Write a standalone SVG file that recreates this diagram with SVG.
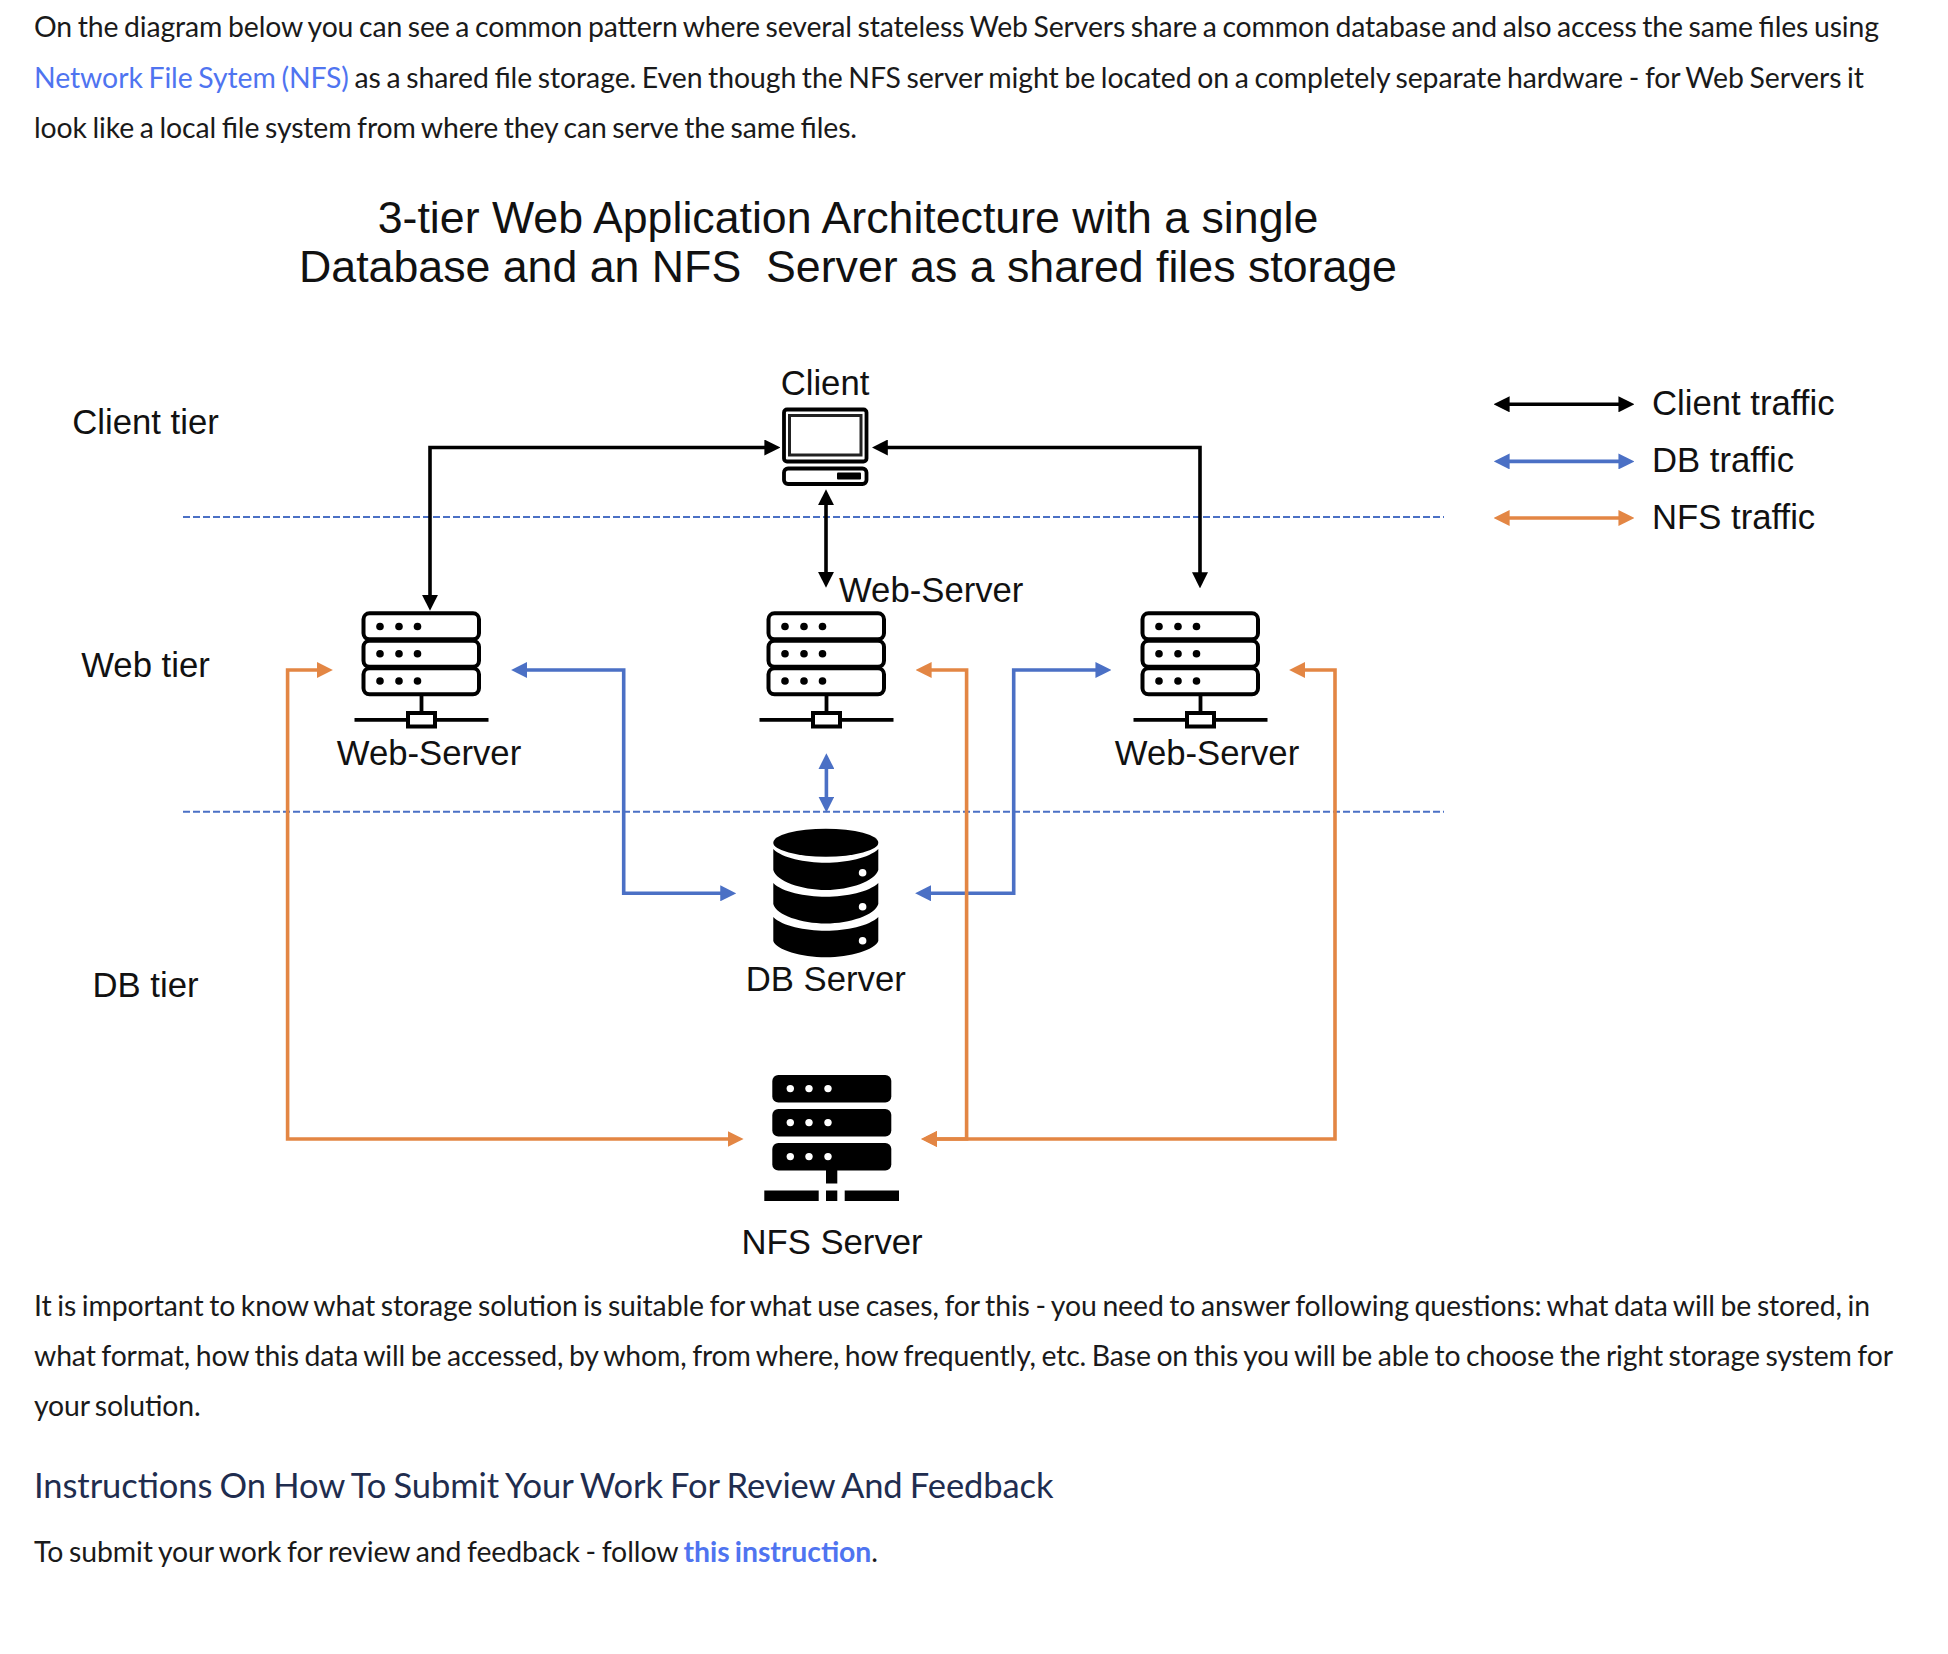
<svg xmlns="http://www.w3.org/2000/svg" width="1948" height="1654" viewBox="0 0 1948 1654">
<style>
.b{font-family:Lato,"Noto Sans",sans-serif;font-size:28.400px;word-spacing:-1.500px;fill:#1a1a1a}
.d{font-family:"Liberation Sans",Arial,sans-serif;font-size:34.700px;fill:#111}
.t{font-family:"Liberation Sans",Arial,sans-serif;font-size:44.700px;fill:#111;text-anchor:middle;white-space:pre}
.m{text-anchor:middle}
.l{fill:#4f74f0}
.c{fill:none;stroke-width:3.600;stroke-linejoin:miter}
.k{stroke:#000;marker-start:url(#ak);marker-end:url(#ak)}
.uu{stroke:#4b70c5;marker-start:url(#au);marker-end:url(#au)}
.oo{stroke:#e38644;marker-start:url(#ao);marker-end:url(#ao)}
.dash{stroke:#4b70c5;stroke-width:2;stroke-dasharray:7 3;fill:none}
.r{fill:#fff;stroke:#000;stroke-width:4}
</style>
<defs>
<marker id="ak" markerUnits="userSpaceOnUse" markerWidth="16" markerHeight="16" viewBox="0 0 14 14" refX="8" refY="7" orient="auto-start-reverse"><path d="M0 0L14 7L0 14z" fill="#000"/></marker>
<marker id="au" markerUnits="userSpaceOnUse" markerWidth="16" markerHeight="16" viewBox="0 0 14 14" refX="8" refY="7" orient="auto-start-reverse"><path d="M0 0L14 7L0 14z" fill="#4b70c5"/></marker>
<marker id="ao" markerUnits="userSpaceOnUse" markerWidth="16" markerHeight="16" viewBox="0 0 14 14" refX="8" refY="7" orient="auto-start-reverse"><path d="M0 0L14 7L0 14z" fill="#e38644"/></marker>
<g id="srv">
<rect class="r" x="1.500" y="1.800" width="115.500" height="26" rx="6"/>
<rect class="r" x="1.500" y="29.300" width="115.500" height="26" rx="6"/>
<rect class="r" x="1.500" y="56.800" width="115.500" height="26" rx="6"/>
<g fill="#000"><circle cx="18" cy="15" r="3.800"/><circle cx="37" cy="15" r="3.800"/><circle cx="55.500" cy="15" r="3.800"/><circle cx="18" cy="42.300" r="3.800"/><circle cx="37" cy="42.300" r="3.800"/><circle cx="55.500" cy="42.300" r="3.800"/><circle cx="18" cy="69.500" r="3.800"/><circle cx="37" cy="69.500" r="3.800"/><circle cx="55.500" cy="69.500" r="3.800"/></g>
<path d="M59.500 84V101M-7.500 108.300H126.500" stroke="#000" stroke-width="3.800" fill="none"/>
<rect class="r" x="46" y="101.500" width="27" height="13.500"/>
</g>
</defs>
<g id="intro">
<text class="b" x="34" y="37" textLength="1845">On the diagram below you can see a common pattern where several stateless Web Servers share a common database and also access the same files using</text>
<text class="b" x="34" y="88" textLength="1830"><tspan class="l">Network File Sytem (NFS)</tspan> as a shared file storage. Even though the NFS server might be located on a completely separate hardware - for Web Servers it</text>
<text class="b" x="34" y="137.800" textLength="823">look like a local file system from where they can serve the same files.</text>
</g>
<g id="title">
<text class="t" x="848" y="232.500">3-tier Web Application Architecture with a single</text>
<text class="t" x="848" y="281.500">Database and an NFS  Server as a shared files storage</text>
</g>
<g id="tiers">
<text class="d m" x="145.500" y="433.500">Client tier</text>
<text class="d m" x="145.500" y="677">Web tier</text>
<text class="d m" x="145.500" y="997">DB tier</text>
<path class="dash" d="M183 517H1444M183 811.700H1444"/>
</g>
<g id="connectors">
<path class="c k" d="M773.500 447.500H430V604"/>
<path class="c k" d="M878.700 447.500H1200V581.500"/>
<path class="c k" d="M826 496V581"/>
<path class="c uu" d="M826.400 760V805.700"/>
<path class="c uu" d="M518 670H623.700V893.300H729.400"/>
<path class="c uu" d="M922 893.300H1013.700V670H1104.600"/>
<path class="c oo" d="M326 670H287.600V1139H736.700"/>
<path class="c oo" d="M922.500 670H966.600V1139H928"/>
<path class="c oo" d="M1296 670H1335V1139H928"/>
</g>
<g id="client">
<text class="d m" x="825" y="394.500">Client</text>
<rect x="784" y="409.500" width="82.500" height="52" rx="3" fill="#fff" stroke="#000" stroke-width="3.800"/>
<rect x="789.500" y="415.500" width="71.500" height="39.500" fill="#fff" stroke="#222" stroke-width="3"/>
<rect x="784" y="468.500" width="82.500" height="15.500" rx="4" fill="#fff" stroke="#000" stroke-width="3.800"/>
<rect x="837" y="472.500" width="24" height="7" rx="1" fill="#000"/>
</g>
<g id="web-server-1">
<use href="#srv" x="362" y="611.500"/>
<text class="d m" x="429" y="765">Web-Server</text>
</g>
<g id="web-server-2">
<use href="#srv" x="767" y="611.500"/>
<text class="d" x="839" y="602">Web-Server</text>
</g>
<g id="web-server-3">
<use href="#srv" x="1141" y="611.500"/>
<text class="d m" x="1207" y="765">Web-Server</text>
</g>
<g id="db-server">
<ellipse cx="825.800" cy="842.700" rx="52.500" ry="14"/>
<path d="M773.300 849C782 858 805 862.700 825.800 862.700S869 858 878.300 849V870C875 881 850 890 825.800 890S776 881 773.300 870z"/>
<path d="M773.300 883C782 892 805 896.700 825.800 896.700S869 892 878.300 883V904C875 915 850 923.500 825.800 923.500S776 915 773.300 904z"/>
<path d="M773.300 917C782 926 805 930.700 825.800 930.700S869 926 878.300 917V941C875 950 850 957.300 825.800 957.300S776 950 773.300 941z"/>
<g fill="#fff"><circle cx="862.600" cy="872.700" r="3.800"/><circle cx="862.600" cy="906.700" r="3.800"/><circle cx="862.600" cy="940.700" r="3.800"/></g>
<text class="d m" x="825.800" y="991">DB Server</text>
</g>
<g id="nfs-server">
<rect x="772.300" y="1075" width="119" height="27.500" rx="6"/>
<rect x="772.300" y="1109" width="119" height="27.500" rx="6"/>
<rect x="772.300" y="1143" width="119" height="27.500" rx="6"/>
<g fill="#fff"><circle cx="790.300" cy="1088.600" r="3.700"/><circle cx="809" cy="1088.600" r="3.700"/><circle cx="828" cy="1088.600" r="3.700"/><circle cx="790.300" cy="1122.600" r="3.700"/><circle cx="809" cy="1122.600" r="3.700"/><circle cx="828" cy="1122.600" r="3.700"/><circle cx="790.300" cy="1156.600" r="3.700"/><circle cx="809" cy="1156.600" r="3.700"/><circle cx="828" cy="1156.600" r="3.700"/></g>
<path d="M826 1170H837.300V1183.500H826zM764.300 1190.500H818.700V1201H764.300zM826 1190.500H837.300V1201H826zM844.700 1190.500H899V1201H844.700z"/>
<text class="d m" x="832" y="1254">NFS Server</text>
</g>
<g id="legend">
<path class="c k" d="M1500.500 404.300H1627.600"/>
<path class="c uu" d="M1500.500 461.400H1627.600"/>
<path class="c oo" d="M1500.500 518H1627.600"/>
<text class="d" x="1652" y="414.500">Client traffic</text>
<text class="d" x="1652" y="471.500">DB traffic</text>
<text class="d" x="1652" y="528.500">NFS traffic</text>
</g>
<g id="outro">
<text class="b" x="34" y="1316" textLength="1836">It is important to know what storage solution is suitable for what use cases, for this - you need to answer following questions: what data will be stored, in</text>
<text class="b" x="34" y="1366" textLength="1859">what format, how this data will be accessed, by whom, from where, how frequently, etc. Base on this you will be able to choose the right storage system for</text>
<text class="b" x="34" y="1416" textLength="166.600">your solution.</text>
<text x="34" y="1497.500" textLength="1019.500" style="font-family:Lato,sans-serif;font-size:34.500px;word-spacing:-1.500px;fill:#1f2d4f">Instructions On How To Submit Your Work For Review And Feedback</text>
<text class="b" x="34" y="1562" textLength="844">To submit your work for review and feedback - follow <tspan class="l" font-weight="700">this instruction</tspan>.</text>
</g>
</svg>
